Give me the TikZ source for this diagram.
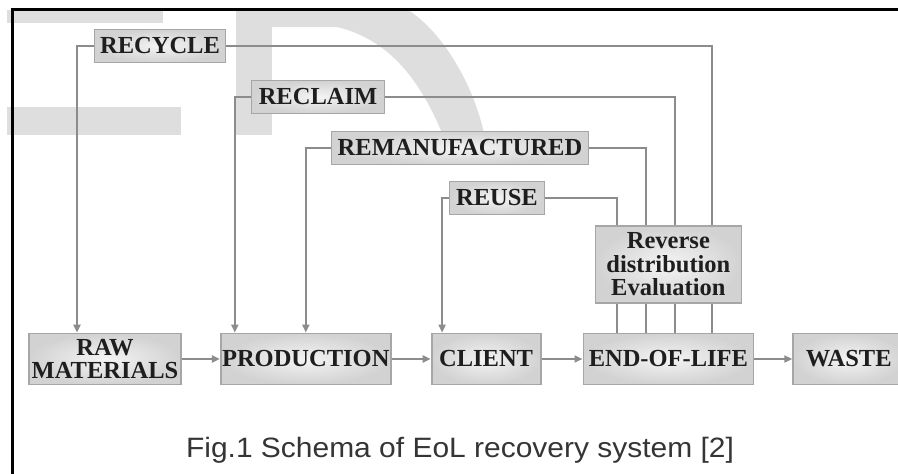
\documentclass[tikz,border=0pt]{standalone}
\usepackage{fontspec}
\setmainfont{Liberation Serif}
\newfontfamily\capfont{Liberation Sans}
\usepackage{xcolor}
\usepackage{tikz}
\usetikzlibrary{arrows.meta, positioning, calc}
\definecolor{boxedge}{HTML}{A6A6A6}
\definecolor{boxlight}{HTML}{F4F4F4}
\definecolor{boxdark}{HTML}{D2D2D2}
\definecolor{linkgray}{HTML}{8C8C8C}
\definecolor{inkdark}{HTML}{1E1E1E}
\definecolor{markgray}{HTML}{DEDEDE}
\tikzset{
    eoldiagram/.style={>={Triangle[length=8pt, width=7pt]}, x=1pt, y=-1pt},
    stagebox/.style={draw=boxedge, line width=1.8pt, inner color=boxlight, outer color=boxdark,
        text=inkdark, align=center, inner sep=0pt, minimum height=51pt,
        font=\bfseries\fontsize{24.5}{23.5}\selectfont},
    routebox/.style={stagebox, minimum height=33pt},
    link/.style={draw=linkgray, line width=2pt},
    marks/.style={fill=markgray},
}

\begin{document}
\begin{tikzpicture}[eoldiagram]
        \useasboundingbox (0,0) rectangle (898,474);

        % watermark behind the scheme
        \fill[marks] (7,10) rectangle (163,23);
        \fill[marks] (7,107) rectangle (181,135);
        \fill[marks] (236,10) rectangle (272,135);
        \fill[marks] (272,10) -- (408,10) .. controls (440,30) and (472,80) .. (484,133)
            -- (442,133) .. controls (422,85) and (392,40) .. (337,27) -- (272,27) -- cycle;

        % main chain
        \node[stagebox, minimum width=152pt] (raw) at (105,359) {RAW\\MATERIALS};
        \node[stagebox, minimum width=170pt, right=38pt of raw]    (prod)   {PRODUCTION};
        \node[stagebox, minimum width=109pt, right=39pt of prod]   (client) {CLIENT};
        \node[stagebox, minimum width=170pt, right=41pt of client] (eol)    {END-OF-LIFE};
        \node[stagebox, minimum width=111pt, right=38pt of eol]    (waste)  {WASTE};
        \node[stagebox, minimum width=146pt, minimum height=77pt, above=29pt of eol] (rev)
            {Reverse\\distribution\\Evaluation};

        % recovery options
        \node[routebox, minimum width=131pt] (recycle) at (160,46)  {RECYCLE};
        \node[routebox, minimum width=133pt] (reclaim) at (318,97)  {RECLAIM};
        \node[routebox, minimum width=257pt] (reman)   at (460,148) {REMANUFACTURED};
        \node[routebox, minimum width=95pt]  (reuse)   at (497,198) {REUSE};

        \draw[link, ->] (raw) -- (prod);
        \draw[link, ->] (prod) -- (client);
        \draw[link, ->] (client) -- (eol);
        \draw[link, ->] (eol) -- (waste);

        % loops back from the evaluation
        \draw[link] (recycle.east) -| ([xshift=44pt]rev.north);
        \draw[link, ->] (recycle.west) -| ([xshift=-28pt]raw.north);
        \draw[link] (reclaim.east) -| ([xshift=7pt]rev.north);
        \draw[link, ->] (reclaim.west) -| ([xshift=-71pt]prod.north);
        \draw[link] (reman.east) -| ([xshift=-22pt]rev.north);
        \draw[link, ->] (reman.west) -| (prod.north);
        \draw[link] (reuse.east) -| ([xshift=-51pt]rev.north);
        \draw[link, ->] (reuse.west) -| ([xshift=-44pt]client.north);

        \foreach \dx in {-51,-22,7,44}
            \draw[link] ([xshift=\dx pt]rev.south) -- ([xshift=\dx pt]rev.south |- eol.north);

        \node[anchor=base, text=inkdark!90, font=\capfont\fontsize{28}{30}\selectfont] (caption)
            at (460,457) {\scalebox{1.07}[1]{Fig.1 Schema of EoL recovery system [2]}};

        % frame
        \draw[black, line width=3pt] (12,474) -- (12,9) -- (898,9);
    \end{tikzpicture}
\end{document}
